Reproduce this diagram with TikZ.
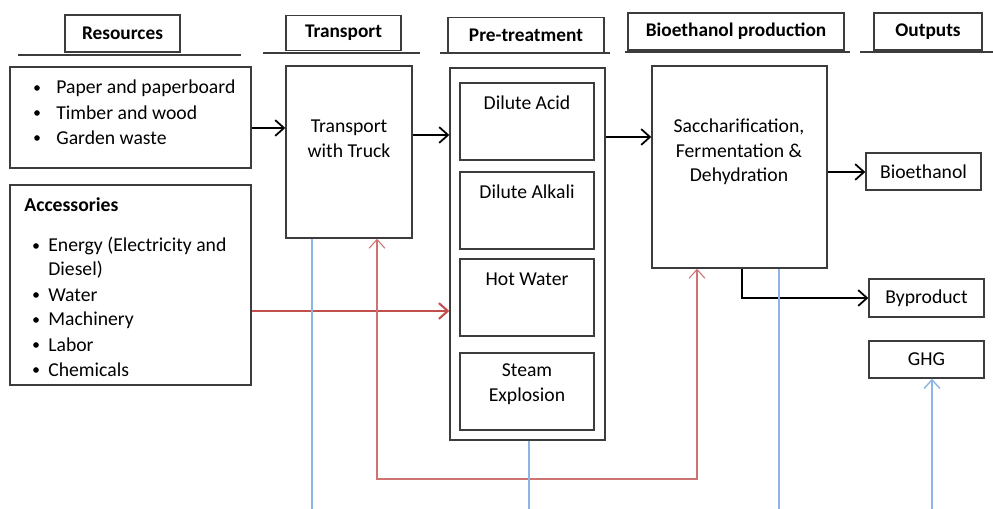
\documentclass[tikz,border=0pt]{standalone}
\usepackage{fontspec}
\setmainfont{Carlito}
\usepackage{tikz}
\usetikzlibrary{arrows.meta}
\definecolor{boxgray}{RGB}{60,60,60}
\definecolor{flowred}{RGB}{192,80,77}
\definecolor{flowblue}{RGB}{141,180,226}
\newcommand\dcirc[2]{\node [fill, circle, inner sep = 0, minimum size = 3.2] (#1) at #2 {};}

\begin{document}
\begin{tikzpicture}[x=0.02cm, y=-0.02cm,
    every node/.style={font=\fontsize{11.2}{14}\selectfont},
    box/.style={draw=boxgray, line width=0.8pt, inner sep=0},
    head/.style={box, font=\fontsize{11}{13}\selectfont\bfseries},
    txt/.style={inner sep=0, align=center},
    item/.style={inner sep=0, anchor=west},
    arr/.style={line width=1pt, -{Straight Barb[length=5pt, width=9pt]}},
    redarr/.style={flowred, line width=1.2pt, -{Straight Barb[length=5pt, width=9pt]}},
    redloop/.style={flowred!80, line width=0.6pt, {Straight Barb[length=5pt, width=9pt]}-{Straight Barb[length=5pt, width=9pt]}},
    blueline/.style={flowblue, line width=0.8pt}]
     \useasboundingbox (0, 0) rectangle (993, 509);

     % headings
     \node [head, minimum width=115*0.02cm, minimum height=37*0.02cm] (hres) at (122.5, 33.5) {Resources};
     \node [head, minimum width=115*0.02cm, minimum height=35*0.02cm] (htrans) at (343.5, 33) {Transport};
     \node [head, minimum width=156*0.02cm, minimum height=35*0.02cm] (hpre) at (526, 35) {Pre-treatment};
     \node [head, minimum width=216*0.02cm, minimum height=37*0.02cm] (hprod) at (736, 31.5) {Bioethanol production};
     \node [head, minimum width=108*0.02cm, minimum height=37*0.02cm] (hout) at (928, 31.5) {Outputs};
     \draw [boxgray, line width=0.8pt] (18, 55) -- (241, 55);
     \draw [boxgray, line width=0.8pt] (263, 53) -- (420, 53);
     \draw [boxgray, line width=0.8pt] (440, 53) -- (610, 53);
     \draw [boxgray, line width=0.8pt] (625, 52) -- (850, 52);
     \draw [boxgray, line width=0.8pt] (860, 52) -- (993, 52);

     % resources
     \node [box, minimum width=241*0.02cm, minimum height=101*0.02cm] (res) at (130.5, 117.5) {};
     \dcirc{pb1}{(37, 88)}
     \dcirc{pb2}{(37, 113)}
     \dcirc{pb3}{(37, 138)}
     \node [item] (paper) at (56, 88) {Paper and paperboard};
     \node [item] (timber) at (56, 113) {Timber and wood};
     \node [item] (garden) at (56, 138) {Garden waste};

     % accessories
     \node [box, minimum width=241*0.02cm, minimum height=200*0.02cm] (acc) at (130.5, 285) {};
     \node [item, font=\fontsize{11.2}{14}\selectfont\bfseries] (acctitle) at (24, 205) {Accessories};
     \dcirc{ab1}{(36, 246)}
     \dcirc{ab2}{(36, 295)}
     \dcirc{ab3}{(36, 320)}
     \dcirc{ab4}{(36, 345)}
     \dcirc{ab5}{(36, 370)}
     \node [item] (energy) at (48, 246) {Energy (Electricity and};
     \node [item] (diesel) at (48, 270) {Diesel)};
     \node [item] (water) at (48, 295) {Water};
     \node [item] (machine) at (48, 320) {Machinery};
     \node [item] (labor) at (48, 345) {Labor};
     \node [item] (chem) at (48, 370) {Chemicals};

     % transport
     \node [box, minimum width=126*0.02cm, minimum height=172*0.02cm] (trans) at (349, 152) {};
     \node [txt] (transtxt) at (349, 139) {Transport\\with Truck};

     % pre-treatment
     \node [box, minimum width=155*0.02cm, minimum height=372*0.02cm] (pre) at (527.5, 254) {};
     \node [box, minimum width=134*0.02cm, minimum height=77*0.02cm] (acid) at (527, 121.5) {};
     \node [box, minimum width=134*0.02cm, minimum height=77*0.02cm] (alkali) at (527, 210.5) {};
     \node [box, minimum width=134*0.02cm, minimum height=77*0.02cm] (hotw) at (527, 297.5) {};
     \node [box, minimum width=134*0.02cm, minimum height=77*0.02cm] (steam) at (527, 391.5) {};
     \node [txt] (acidtxt) at (527, 103) {Dilute Acid};
     \node [txt] (alkalitxt) at (527, 192) {Dilute Alkali};
     \node [txt] (hotwtxt) at (527, 279) {Hot Water};
     \node [txt] (steamtxt) at (527, 384) {Steam\\Explosion};

     % production
     \node [box, minimum width=175*0.02cm, minimum height=202*0.02cm] (prod) at (739.5, 167) {};
     \node [txt] (prodtxt) at (739, 152) {Saccharification,\\Fermentation \&\\Dehydration};

     % outputs
     \node [box, minimum width=115*0.02cm, minimum height=37*0.02cm] (ethanol) at (923.5, 171.5) {Bioethanol};
     \node [box, minimum width=115*0.02cm, minimum height=38*0.02cm] (byprod) at (926.5, 298) {Byproduct};
     \node [box, minimum width=115*0.02cm, minimum height=37*0.02cm] (ghg) at (926.5, 359.5) {GHG};

     % black flow
     \draw [arr] (res.east |- 0, 128) -- (trans.west |- 0, 128);
     \draw [arr] (trans.east |- 0, 135) -- (pre.west |- 0, 135);
     \draw [arr] (pre.east |- 0, 137) -- (prod.west |- 0, 137);
     \draw [arr] (prod.east |- 0, 172) -- (ethanol.west |- 0, 172);
     \draw [arr] (prod.south -| 742, 0) |- (byprod.west);

     % red flow
     \draw [redarr] (acc.east |- 0, 311) -- (pre.west |- 0, 311);
     \coordinate (redcorner) at (377, 479);
     \draw [redloop] (trans.south -| redcorner) -- (redcorner) -| (prod.south -| 697, 0);

     % blue lines
     \coordinate (blue1) at (312, 509);
     \coordinate (blue2) at (529, 509);
     \coordinate (blue3) at (779, 509);
     \coordinate (blue4) at (932, 509);
     \draw [blueline] (trans.south -| blue1) -- (blue1);
     \draw [blueline] (pre.south -| blue2) -- (blue2);
     \draw [blueline] (prod.south -| blue3) -- (blue3);
     \draw [blueline, -{Straight Barb[length=5pt, width=9pt]}] (blue4) -- (ghg.south -| blue4);
    \end{tikzpicture}
\end{document}
